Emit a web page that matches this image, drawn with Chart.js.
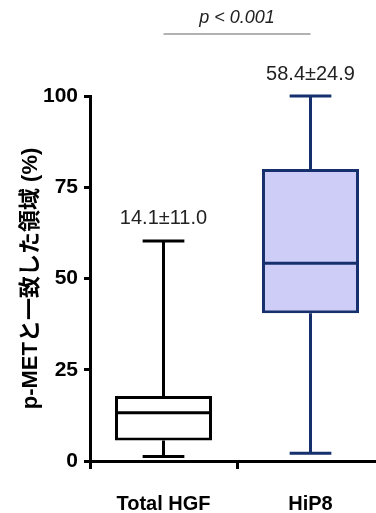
<!DOCTYPE html>
<html>
<head>
<meta charset="utf-8">
<script src="https://cdn.jsdelivr.net/npm/chart.js@4"></script>
<style>
    body { margin: 0; background: #fff; overflow: hidden; width: 376px; height: 513px; }
    #wrap { width: 384px; height: 513px; }
</style>
</head>
<body>
<div id="wrap"><canvas id="boxChart" width="384" height="513"></canvas></div>
<script>
// groups and box plot stats
const groups = ['Total HGF', 'HiP8'];
const minVals = [1.2, 2.1];
const q1Vals = [5.6, 40.5];
const medianVals = [13.2, 54.2];
const q3Vals = [17.8, 80.0];
const maxVals = [60.3, 100];
const meanLabels = ['14.1±11.0', '58.4±24.9'];
const yTicks = [0, 25, 50, 75, 100];
const pText = 'p < 0.001';

const lineColors = ['#000000', '#16306e'];
const fillColors = ['#ffffff', '#cdcdf8'];
const fontFamily = '"Liberation Sans", Arial, "Noto Sans CJK JP", sans-serif';

// whiskers, medians and annotations drawn on top of the floating bars
const boxExtras = {
    id: 'boxExtras',
    afterDatasetsDraw(chart) {
        const ctx = chart.ctx;
        const y = chart.scales.y;
        const bars = chart.getDatasetMeta(0).data;
        ctx.save();
        ctx.lineWidth = 3;
        ctx.lineCap = 'butt';
        bars.forEach((bar, i) => {
            const x = bar.x;
            const w = bar.width;
            const capW = w * 0.43;
            ctx.strokeStyle = lineColors[i];
            ctx.beginPath();
            // upper whisker
            ctx.moveTo(x, y.getPixelForValue(q3Vals[i]));
            ctx.lineTo(x, y.getPixelForValue(maxVals[i]));
            ctx.moveTo(x - capW / 2, y.getPixelForValue(maxVals[i]));
            ctx.lineTo(x + capW / 2, y.getPixelForValue(maxVals[i]));
            // lower whisker
            ctx.moveTo(x, y.getPixelForValue(q1Vals[i]));
            ctx.lineTo(x, y.getPixelForValue(minVals[i]));
            ctx.moveTo(x - capW / 2, y.getPixelForValue(minVals[i]));
            ctx.lineTo(x + capW / 2, y.getPixelForValue(minVals[i]));
            // median
            ctx.moveTo(x - w / 2 + 1, y.getPixelForValue(medianVals[i]));
            ctx.lineTo(x + w / 2 - 1, y.getPixelForValue(medianVals[i]));
            ctx.stroke();

            // mean ± sd label
            ctx.fillStyle = '#222';
            ctx.font = '20px ' + fontFamily;
            ctx.textAlign = 'center';
            ctx.textBaseline = 'middle';
            ctx.fillText(meanLabels[i], x, y.getPixelForValue(maxVals[i]) - 22);
        });

        // significance bar
        const x1 = bars[0].x;
        const x2 = bars[1].x;
        ctx.strokeStyle = '#999';
        ctx.lineWidth = 1.5;
        ctx.beginPath();
        ctx.moveTo(x1, 34);
        ctx.lineTo(x2, 34);
        ctx.stroke();
        ctx.fillStyle = '#222';
        ctx.font = 'italic 18px ' + fontFamily;
        ctx.textAlign = 'center';
        ctx.textBaseline = 'middle';
        ctx.fillText(pText, (x1 + x2) / 2, 18);
        ctx.restore();
    }
};

const ctx = document.getElementById('boxChart').getContext('2d');
new Chart(ctx, {
    type: 'bar',
    data: {
        labels: groups,
        datasets: [{
            data: groups.map((g, i) => [q1Vals[i], q3Vals[i]]),
            backgroundColor: fillColors,
            borderColor: lineColors,
            borderWidth: 3,
            borderSkipped: false,
            barPercentage: 0.66,
            categoryPercentage: 1
        }]
    },
    options: {
        responsive: false,
        animation: false,
        layout: { padding: { top: 96, left: 0, right: 0, bottom: 0 } },
        plugins: {
            legend: { display: false },
            tooltip: { enabled: false }
        },
        scales: {
            x: {
                afterFit(scale) { scale.height = 52; },
                grid: {
                    drawOnChartArea: false,
                    drawTicks: true,
                    tickLength: 8,
                    color: '#000',
                    lineWidth: 3
                },
                border: { display: true, color: '#000', width: 3 },
                ticks: {
                    color: '#000',
                    padding: 25,
                    font: { family: fontFamily, size: 20, weight: 'bold', lineHeight: 1 }
                }
            },
            y: {
                min: 0,
                max: 100,
                afterFit(scale) { scale.width = 90; },
                afterBuildTicks(scale) {
                    scale.ticks = yTicks.map(v => ({ value: v }));
                },
                grid: {
                    drawOnChartArea: false,
                    drawTicks: true,
                    tickLength: 6,
                    color: '#000',
                    lineWidth: 3
                },
                border: { display: true, color: '#000', width: 3 },
                ticks: {
                    color: '#000',
                    padding: 6,
                    font: { family: fontFamily, size: 21, weight: 'bold' }
                },
                title: {
                    display: true,
                    text: 'p-METと一致した領域 (%)',
                    color: '#000',
                    padding: { top: 18, bottom: 0 },
                    font: { family: fontFamily, size: 22, weight: 'bold' }
                }
            }
        }
    },
    plugins: [boxExtras]
});
</script>
</body>
</html>
